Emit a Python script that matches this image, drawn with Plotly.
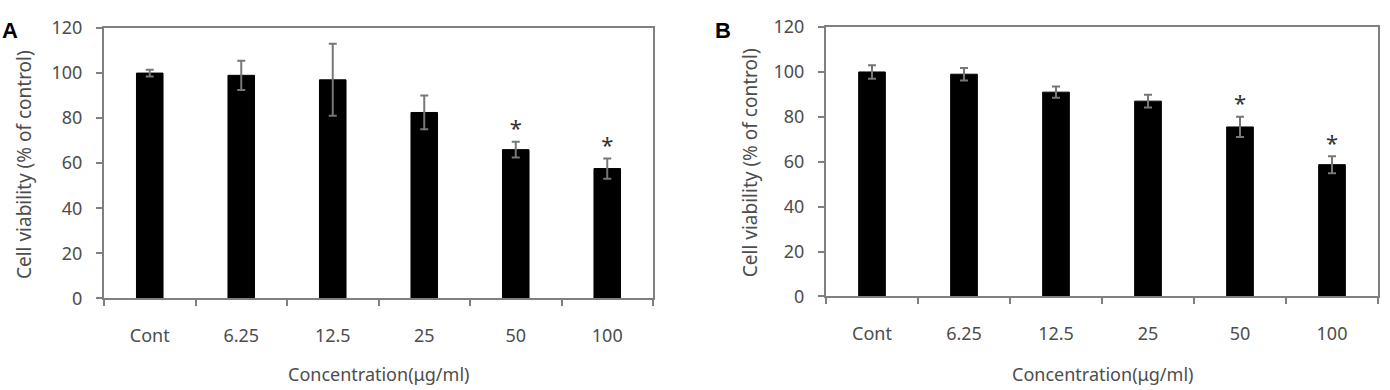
import plotly.graph_objects as go

categories = ["Cont", "6.25", "12.5", "25", "50", "100"]
a_values = [100, 99, 97, 82.5, 66, 57.6]
a_errors = [1.5, 6.5, 16, 7.5, 3.5, 4.5]
a_sig = [False, False, False, False, True, True]
b_values = [100, 99, 91, 87, 75.5, 58.7]
b_errors = [3, 2.8, 2.5, 2.8, 4.5, 3.8]
b_sig = [False, False, False, False, True, True]
y_ticks = [0, 20, 40, 60, 80, 100, 120]

W, H = 1390, 390
FONT = "Noto Sans"
GREY = "#4d4d4d"
LINE = "#808080"

fig = go.Figure()

panels = [
    dict(vals=a_values, errs=a_errors, sig=a_sig, xa="x", ya="y",
         px=(104, 653), py=(16, 304), letter="A", lx=0, tx=24, ty=162),
    dict(vals=b_values, errs=b_errors, sig=b_sig, xa="x2", ya="y2",
         px=(826, 1378), py=(15, 302), letter="B", lx=713, tx=750, ty=160),
]

layout_axes = {}
for i, p in enumerate(panels):
    fig.add_trace(go.Bar(
        x=categories, y=p["vals"], xaxis=p["xa"], yaxis=p["ya"],
        marker=dict(color="black", line=dict(color="black", width=1)),
        width=0.29,
        error_y=dict(type="data", array=p["errs"], visible=True,
                     color="#777777", thickness=2, width=4),
        showlegend=False,
    ))
    star_x = [c for c, s in zip(categories, p["sig"]) if s]
    star_y = [v + e for v, e, s in zip(p["vals"], p["errs"], p["sig"]) if s]
    fig.add_trace(go.Scatter(
        x=star_x, y=star_y, xaxis=p["xa"], yaxis=p["ya"], mode="text",
        text=["*"] * len(star_x), textposition="top center",
        textfont=dict(family=FONT, size=22, color="#333333"),
        showlegend=False, cliponaxis=False,
    ))
    sfx = "" if i == 0 else "2"
    layout_axes["xaxis" + sfx] = dict(
        domain=[p["px"][0] / W, p["px"][1] / W], anchor="y" + sfx,
        type="category", range=[-0.5, 5.5],
        showline=True, linecolor=LINE, linewidth=2, mirror=True,
        ticks="outside", tickson="boundaries", ticklen=6, tickcolor=LINE, tickwidth=2,
        ticklabelstandoff=20,
        tickfont=dict(family=FONT, size=18, color=GREY),
        showgrid=False, zeroline=False, fixedrange=True,
    )
    layout_axes["yaxis" + sfx] = dict(
        domain=[1 - p["py"][1] / H, 1 - p["py"][0] / H], anchor="x" + sfx,
        range=[0, 120], tickvals=y_ticks,
        showline=True, linecolor=LINE, linewidth=2, mirror=True,
        ticks="outside", ticklen=6, tickcolor=LINE, tickwidth=2,
        ticklabelstandoff=10,
        tickfont=dict(family=FONT, size=18, color=GREY),
        showgrid=False, zeroline=False, fixedrange=True,
    )

annotations = []
for p in panels:
    cx = (p["px"][0] + p["px"][1]) / 2 / W
    annotations.append(dict(
        text="Concentration(μg/ml)", xref="paper", yref="paper",
        x=cx, y=1 - 385 / H, xanchor="center", yanchor="middle", showarrow=False,
        font=dict(family=FONT, size=18, color=GREY),
    ))
    annotations.append(dict(
        text="Cell viability (% of control)", xref="paper", yref="paper",
        x=p["tx"] / W, y=1 - p["ty"] / H, textangle=-90,
        xanchor="center", yanchor="middle",
        showarrow=False, font=dict(family=FONT, size=19, color=GREY),
    ))
    annotations.append(dict(
        text="<b>" + p["letter"] + "</b>", xref="paper", yref="paper",
        x=p["lx"] / W, y=1 - 19 / H, xanchor="left", yanchor="middle", showarrow=False,
        font=dict(family="Liberation Sans", size=22, color="black"),
    ))

fig.update_layout(
    width=W, height=H, margin=dict(l=0, r=0, t=0, b=0),
    paper_bgcolor="white", plot_bgcolor="white",
    annotations=annotations, **layout_axes,
)

fig.write_html("out.html")
